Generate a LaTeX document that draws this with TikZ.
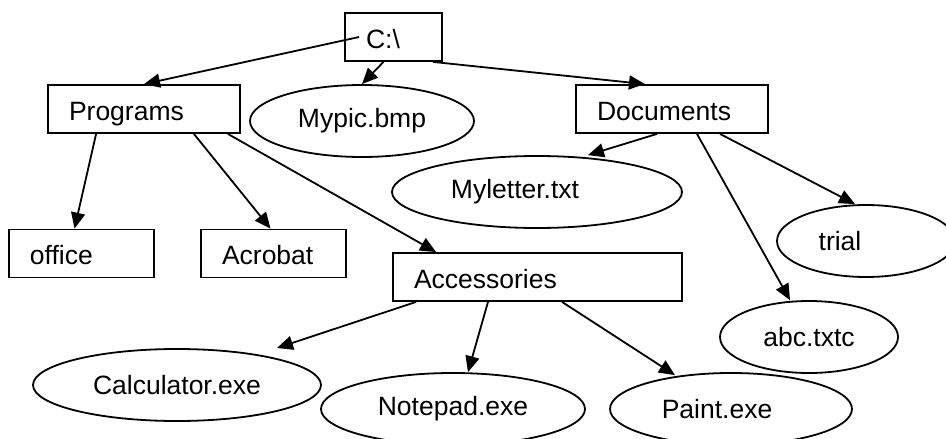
\documentclass[tikz,border=0pt]{standalone}
\usepackage{fontspec}
\setmainfont{Liberation Sans}
\usetikzlibrary{arrows.meta,shapes.geometric}

\begin{document}
\begin{tikzpicture}[x=1pt, y=-1pt,
    every node/.style={font=\fontsize{26.5pt}{30pt}\selectfont},
    folder/.style={draw, rectangle, line width=1.8pt, inner xsep=21pt, align=left, text height=22pt, text depth=0pt, minimum height=48pt},
    datei/.style={draw, ellipse, line width=1.8pt, minimum height=72pt},
    link/.style={line width=1.8pt, -{Triangle[length=16pt,width=14pt]}}]
    \useasboundingbox (0,0) rectangle (946,439);

    % Cartelle
    \node[folder, text width=55pt] (root) at (393.5,37) {C:\textbackslash};
    \node[folder, text width=150pt] (programs) at (144,109) {Programs};
    \node[folder, text width=150pt] (documents) at (672,109) {Documents};
    \node[folder, text width=103pt] (office) at (81.5,253.5) {office};
    \node[folder, text width=103pt] (acrobat) at (273.5,253.5) {Acrobat};
    \node[folder, text width=247pt] (accessories) at (537.5,277) {Accessories};

    % File
    \node[datei, minimum width=224pt] (mypic) at (362,121) {Mypic.bmp};
    \node[datei, minimum width=290pt] (myletter) at (537,192) {Myletter.txt\kern44pt};
    \node[datei, minimum width=178pt] (trial) at (866,241) {trial\kern52pt};
    \node[datei, minimum width=178pt] (abc) at (809,337) {abc.txtc};
    \node[datei, minimum width=288pt] (calculator) at (177,385) {Calculator.exe};
    \node[datei, minimum width=264pt] (notepad) at (453,409) {Notepad.exe};
    \node[datei, minimum width=242pt] (paint) at (731,409) {Paint.exe\kern28pt};

    % Frecce
    \draw[link] ([xshift=15pt]root.west) -- (programs.north);
    \draw[link] ([xshift=-10pt]root.south) -- (mypic.north);
    \draw[link] ([xshift=-10pt]root.south east) -- ([xshift=-27pt]documents.north);
    \draw[link] ([xshift=49pt]programs.south west) -- ([xshift=-7pt]office.north);
    \draw[link] ([xshift=-47pt]programs.south east) -- ([xshift=-3pt]acrobat.north);
    \draw[link] ([xshift=-13pt]programs.south east) -- ([xshift=44pt]accessories.north west);
    \draw[link] ([xshift=-15pt]documents.south) -- ([xshift=51pt]myletter.north);
    \draw[link] ([xshift=25pt]documents.south) -- ([xshift=-19pt]abc.north);
    \draw[link] ([xshift=48pt]documents.south) -- ([xshift=-11pt]trial.north);
    \draw[link] ([xshift=24pt]accessories.south west) -- ([xshift=100pt,yshift=37pt]calculator.center);
    \draw[link] ([xshift=-49.5pt]accessories.south) -- ([xshift=15pt]notepad.north);
    \draw[link] ([xshift=24.5pt]accessories.south) -- ([xshift=-56pt,yshift=-3pt]paint.north);
\end{tikzpicture}
\end{document}
